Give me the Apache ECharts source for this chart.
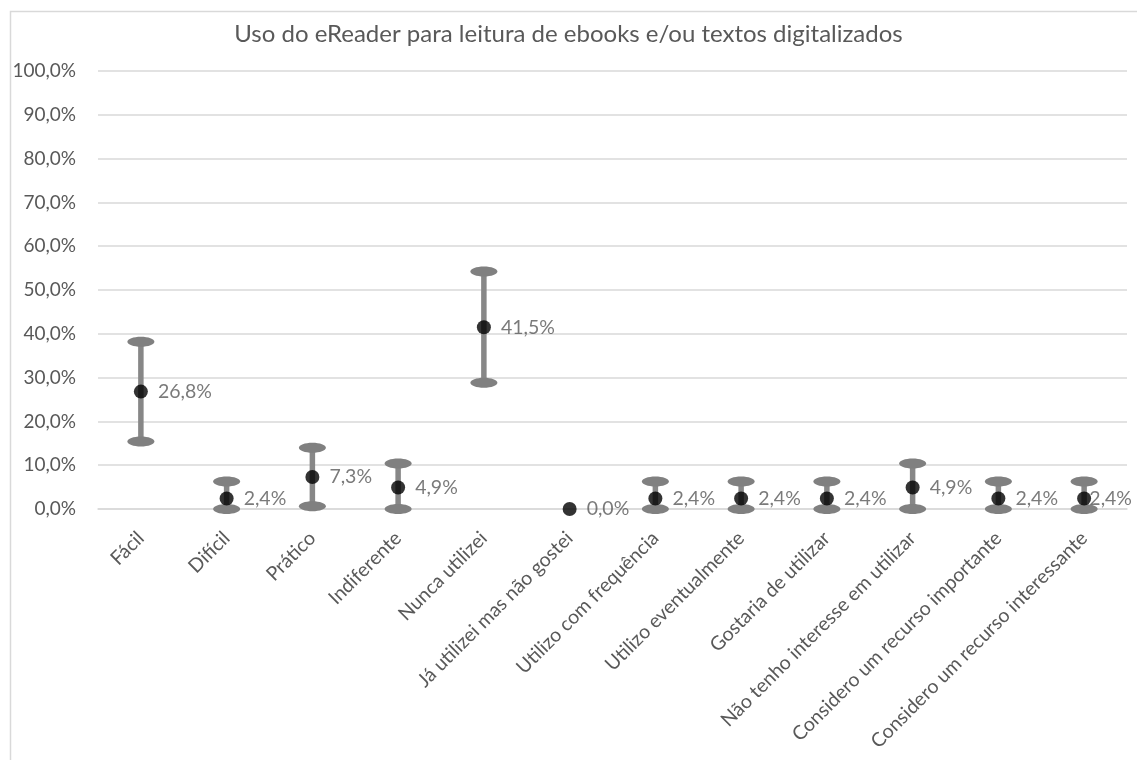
<!DOCTYPE html>
<html>
<head>
<meta charset="utf-8">
<script src="https://cdn.jsdelivr.net/npm/echarts@6/dist/echarts.min.js"></script>
<style>
html,body{margin:0;padding:0;background:#fff;}
#chart{width:1137px;height:760px;}
</style>
</head>
<body>
<div id="chart"></div>
<script>
var categories = ["Fácil","Difícil","Prático","Indiferente","Nunca utilizei","Já utilizei mas não gostei","Utilizo com frequência","Utilizo eventualmente","Gostaria de utilizar","Não tenho interesse em utilizar","Considero um recurso importante","Considero um recurso interessante"];
var values = [26.8, 2.4, 7.3, 4.9, 41.5, 0.0, 2.4, 2.4, 2.4, 4.9, 2.4, 2.4];
var lowerBounds = [15.4, 0.0, 0.6, 0.0, 28.8, null, 0.0, 0.0, 0.0, 0.0, 0.0, 0.0];
var upperBounds = [38.2, 6.3, 14.0, 10.4, 54.2, null, 6.3, 6.3, 6.3, 10.4, 6.3, 6.3];
var yTicks = [0, 10, 20, 30, 40, 50, 60, 70, 80, 90, 100];

var FONT = 'Lato';
var TXT = '#595959';

function pct(v){ return v.toFixed(1).replace('.', ',') + '%'; }

var errData = categories.map(function(c, i){
  return [i, lowerBounds[i], upperBounds[i]];
});

var chart = echarts.init(document.getElementById('chart'));
chart.setOption({
  animation: false,
  backgroundColor: '#fff',
  title: {
    text: 'Uso do eReader para leitura de ebooks e/ou textos digitalizados',
    left: 'center',
    top: 17,
    textStyle: { fontFamily: FONT, fontSize: 24, fontWeight: 'normal', color: TXT }
  },
  graphic: [{
    type: 'rect', left: 8, top: 9,
    shape: { width: 1160, height: 780 },
    style: { fill: 'none', stroke: '#d9d9d9', lineWidth: 1.5 },
    silent: true
  }],
  grid: { left: 98, right: 10, top: 71, bottom: 251, containLabel: false },
  xAxis: {
    type: 'category',
    data: categories,
    axisLine: { show: true, lineStyle: { color: '#d9d9d9', width: 1.5 } },
    axisTick: { show: false },
    axisLabel: { rotate: 45, interval: 0, margin: 26, fontFamily: FONT, fontSize: 19.5, color: TXT }
  },
  yAxis: {
    type: 'value',
    min: yTicks[0], max: yTicks[yTicks.length - 1], interval: 10,
    axisLine: { show: false },
    axisTick: { show: false },
    splitLine: { lineStyle: { color: '#d9d9d9', width: 1.5 } },
    axisLabel: { margin: 22, fontFamily: FONT, fontSize: 19, color: TXT, formatter: function(v){ return pct(v); } }
  },
  series: [
    {
      type: 'custom',
      z: 2,
      data: errData,
      encode: { x: 0, y: [1, 2] },
      renderItem: function(params, api){
        var lo = api.value(1), hi = api.value(2);
        if (lo === null || hi === null || isNaN(lo) || isNaN(hi)) return null;
        var x = api.value(0);
        var pLo = api.coord([x, lo]);
        var pHi = api.coord([x, hi]);
        return {
          type: 'group',
          children: [
            { type: 'line', shape: { x1: pLo[0], y1: pLo[1], x2: pHi[0], y2: pHi[1] },
              style: { stroke: '#878787', lineWidth: 5.5 } },
            { type: 'ellipse', shape: { cx: pHi[0], cy: pHi[1], rx: 13.5, ry: 5 },
              style: { fill: '#808080' } },
            { type: 'ellipse', shape: { cx: pLo[0], cy: pLo[1], rx: 13.5, ry: 5 },
              style: { fill: '#808080' } }
          ]
        };
      }
    },
    {
      type: 'scatter',
      z: 3,
      data: values,
      symbol: 'circle',
      symbolSize: 14,
      itemStyle: { color: '#000' },
      label: {
        show: true, position: 'right', distance: 10,
        fontFamily: FONT, fontSize: 19.5, color: TXT,
        formatter: function(p){ return pct(p.value); }
      },
      labelLayout: function(p){
        var r = p.labelRect;
        var limit = 1132;
        if (r.x + r.width > limit) {
          return { x: limit - r.width, y: r.y + r.height / 2, align: 'left', verticalAlign: 'middle' };
        }
        return {};
      }
    }
  ]
});
</script>
</body>
</html>
